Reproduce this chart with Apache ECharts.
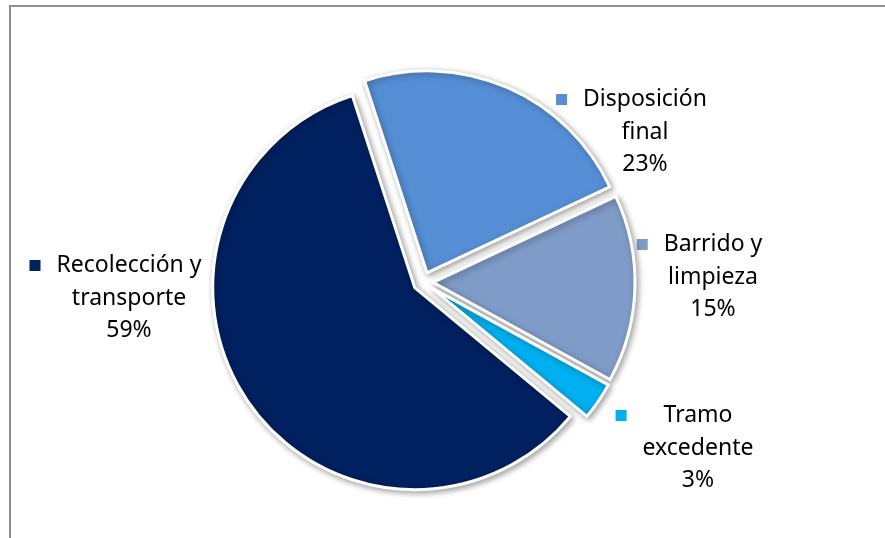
<!DOCTYPE html>
<html>
<head>
<meta charset="utf-8">
<script src="https://cdn.jsdelivr.net/npm/echarts@6/dist/echarts.min.js"></script>
<style>
  html, body { margin: 0; padding: 0; background: #ffffff; overflow: hidden; }
  #frame { position: absolute; left: 9px; top: 5px; width: 900px; height: 560px;
           border-top: 2px solid #8e8e8e; border-left: 2px solid #8e8e8e; }
  #chart { position: absolute; left: 0; top: 0; width: 885px; height: 538px; }
</style>
</head>
<body>
<div id="frame"></div>
<div id="chart"></div>
<script>
// Cost breakdown of the waste service, percent of total
const categories = ['Disposición final', 'Barrido y limpieza', 'Tramo excedente', 'Recolección y transporte'];
const labelLines = [['Disposición', 'final'], ['Barrido y', 'limpieza'], ['Tramo', 'excedente'], ['Recolección y', 'transporte']];
const values = [23, 15, 3, 59];
const colors = ['#558ED5', '#7F9BC8', '#00B0F0', '#002060'];

// where each data label block is centred (text centre x, block middle y)
const labelAnchors = [[645, 132], [713, 277], [698, 448], [129, 298]];
// how far each slice is pulled out of the pie
const explode = [10, 11, 16, 10];

const textStyle = { fontFamily: 'Noto Sans', fontSize: 23, color: '#000000', lineHeight: 32.5, align: 'center' };

// label text: legend key to the left of the block, lines centred
function labelText(i) {
  return '{sq|}{gap|}{t|' + labelLines[i][0] + '}{pad|}\n' +
         '{pad2|}{t|' + labelLines[i][1] + '}{pad|}\n' +
         '{pad2|}{t|' + values[i] + '%}{pad|}';
}

function labelRich(i) {
  return {
    sq: { width: 11, height: 11, backgroundColor: colors[i], align: 'left', verticalAlign: 'middle' },
    gap: { width: 16, height: 11, align: 'left' },
    pad2: { width: 27, height: 11, align: 'left' },
    pad: { width: 27, height: 11, align: 'right' },
    t: textStyle
  };
}

const chart = echarts.init(document.getElementById('chart'), null, { renderer: 'canvas' });

const data = categories.map((name, i) => ({
  name: name,
  value: values[i],
  selected: true,
  selectedOffset: explode[i],
  itemStyle: { color: colors[i] }
}));

const labels = categories.map((name, i) => ({
  type: 'text',
  x: labelAnchors[i][0],
  y: labelAnchors[i][1],
  silent: true,
  style: {
    text: labelText(i),
    rich: labelRich(i),
    fontFamily: 'Noto Sans',
    fontSize: 23,
    lineHeight: 32.5,
    fill: '#000000',
    textAlign: 'center',
    textVerticalAlign: 'middle'
  }
}));

chart.setOption({
  animation: false,
  graphic: labels,
  series: [{
    type: 'pie',
    center: [423, 282],
    radius: [0, 202],
    startAngle: 108,
    clockwise: true,
    selectedMode: 'multiple',
    selectedOffset: 10,
    itemStyle: {
      borderColor: '#ffffff',
      borderWidth: 3,
      shadowBlur: 6,
      shadowOffsetX: 2,
      shadowOffsetY: 2,
      shadowColor: 'rgba(0,0,0,0.35)'
    },
    emphasis: { disabled: true },
    label: { show: false },
    labelLine: { show: false },
    data: data
  }]
});
</script>
</body>
</html>
